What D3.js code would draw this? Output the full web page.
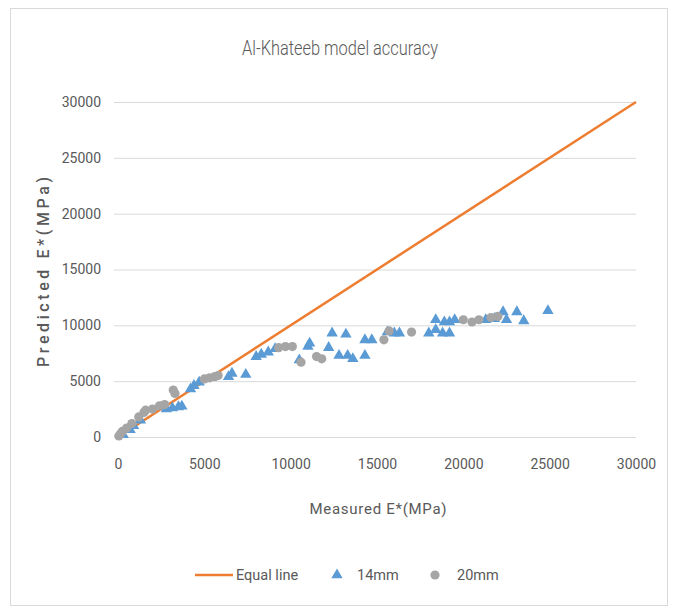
<!DOCTYPE html>
<html>
<head>
<meta charset="utf-8">
<script src="https://cdn.jsdelivr.net/npm/d3@7"></script>
<style>
  body { margin: 0; background: #fff; }
  text { font-family: Roboto, "Liberation Sans", sans-serif; fill: #595959; }
</style>
</head>
<body>
<div id="chart"></div>
<script>
// data: [measured, predicted] in MPa
let equalLine = [[0, 0], [30000, 30000]]
let series14mm = [
  [300, 200], [700, 650], [900, 1000], [1300, 1500], [2800, 2500], [3150, 2600],
  [3500, 2700], [3700, 2750], [4200, 4300], [4400, 4600], [4700, 4900], [6400, 5400],
  [6600, 5700], [7400, 5600], [8000, 7200], [8300, 7400], [8700, 7600], [9100, 7900],
  [10500, 6900], [11000, 8100], [11100, 8400], [12400, 9300], [12200, 8000], [12800, 7300],
  [13300, 7300], [13600, 7000], [13200, 9200], [14300, 8700], [14300, 7300], [14700, 8700],
  [15600, 9400], [16000, 9300], [16300, 9300], [18000, 9300], [18400, 9600], [18800, 9300],
  [19200, 9300], [18400, 10500], [18900, 10300], [19200, 10300], [19500, 10500], [21300, 10500],
  [21800, 10600], [22300, 11200], [22500, 10500], [23100, 11200], [23500, 10400], [24900, 11300]
]
let series20mm = [
  [50, 100], [150, 300], [250, 500], [500, 800], [800, 1200], [1200, 1800], [1500, 2200],
  [1600, 2400], [2000, 2500], [2400, 2800], [2700, 2900], [3200, 4200], [3300, 3900],
  [5000, 5200], [5300, 5300], [5600, 5400], [5800, 5500], [9300, 8000], [9700, 8100],
  [10100, 8100], [10600, 6700], [11800, 7000], [11500, 7200], [15400, 8700], [15700, 9500],
  [17000, 9400], [20000, 10500], [20500, 10300], [20900, 10500], [22000, 10800], [21600, 10700]
]
let ticks = [0, 5000, 10000, 15000, 20000, 25000, 30000]
let legendItems = ["Equal line", "14mm", "20mm"]

let width = 673
let height = 609
let margin = { top: 102, right: 37, bottom: 172, left: 118 }
let colors = { line: "#ED7D31", s14: "#5B9BD5", s20: "#A5A5A5" }

let svg = d3.select("#chart").append("svg")
  .attr("width", width)
  .attr("height", height)

// chart frame
svg.append("rect")
  .attr("x", 10.5).attr("y", 8.5)
  .attr("width", 657).attr("height", 597)
  .attr("fill", "#fff")
  .attr("stroke", "#d9d9d9")

let x = d3.scaleLinear().domain([0, 30000]).range([margin.left, width - margin.right])
let y = d3.scaleLinear().domain([0, 30000]).range([height - margin.bottom, margin.top])

// gridlines
svg.append("g")
  .attr("transform", "translate(" + (x(0) - 4) + ",0)")
  .call(d3.axisLeft(y).tickValues(ticks).tickSize(-(x(30000) - x(0) + 4)).tickFormat(""))
  .call(g => g.select(".domain").remove())
  .call(g => g.selectAll("line").attr("stroke", "#d9d9d9"))

// tick labels
svg.append("g")
  .attr("transform", "translate(" + (x(0) - 15) + ",0)")
  .call(d3.axisLeft(y).tickValues(ticks).tickSize(0).tickPadding(2).tickFormat(d3.format("d")))
  .call(g => g.select(".domain").remove())
  .call(g => g.selectAll("text").style("font-size", "14px").attr("fill", "#595959"))

svg.append("g")
  .attr("transform", "translate(0," + (y(0) + 18) + ")")
  .call(d3.axisBottom(x).tickValues(ticks).tickSize(0).tickPadding(4).tickFormat(d3.format("d")))
  .call(g => g.select(".domain").remove())
  .call(g => g.selectAll("text").style("font-size", "14px").attr("fill", "#595959"))

// equal line
svg.append("path")
  .datum(equalLine)
  .attr("fill", "none")
  .attr("stroke", colors.line)
  .attr("stroke-width", 2.5)
  .attr("d", d3.line().x(d => x(d[0])).y(d => y(d[1])))

let triangle = d3.symbol().type(d3.symbolTriangle).size(56)

svg.append("g").selectAll("path")
  .data(series14mm)
  .enter()
  .append("path")
  .attr("d", triangle)
  .attr("transform", d => "translate(" + x(d[0]) + "," + y(d[1]) + ")")
  .attr("fill", colors.s14)

svg.append("g").selectAll("circle")
  .data(series20mm)
  .enter()
  .append("circle")
  .attr("cx", d => x(d[0]))
  .attr("cy", d => y(d[1]))
  .attr("r", 4.6)
  .attr("fill", colors.s20)

// titles
svg.append("text")
  .attr("x", 340).attr("y", 55)
  .attr("text-anchor", "middle")
  .style("font-size", "20px")
  .style("font-weight", "300")
  .attr("textLength", 196)
  .attr("lengthAdjust", "spacingAndGlyphs")
  .text("Al-Khateeb model accuracy")

svg.append("text")
  .attr("x", 378).attr("y", 514)
  .attr("text-anchor", "middle")
  .style("font-size", "15px")
  .attr("textLength", 137)
  .text("Measured E*(MPa)")

svg.append("text")
  .attr("transform", "translate(49,272) rotate(-90)")
  .attr("text-anchor", "middle")
  .style("font-size", "16px")
  .style("font-weight", "500")
  .attr("textLength", 190)
  .text("Predicted E*(MPa)")

// legend
let legend = svg.append("g").attr("transform", "translate(0,575)")
let lx = [195, 337, 435]

legend.append("line")
  .attr("x1", lx[0]).attr("x2", lx[0] + 38)
  .attr("y1", 0).attr("y2", 0)
  .attr("stroke", colors.line)
  .attr("stroke-width", 2.5)

legend.append("path")
  .attr("d", triangle)
  .attr("transform", "translate(" + lx[1] + ",0)")
  .attr("fill", colors.s14)

legend.append("circle")
  .attr("cx", lx[2]).attr("cy", 0).attr("r", 4.6)
  .attr("fill", colors.s20)

legend.selectAll("text")
  .data(legendItems)
  .enter()
  .append("text")
  .attr("x", (d, i) => [lx[0] + 41, lx[1] + 20, lx[2] + 22][i])
  .attr("y", 5)
  .style("font-size", "14.5px")
  .text(d => d)
</script>
</body>
</html>
